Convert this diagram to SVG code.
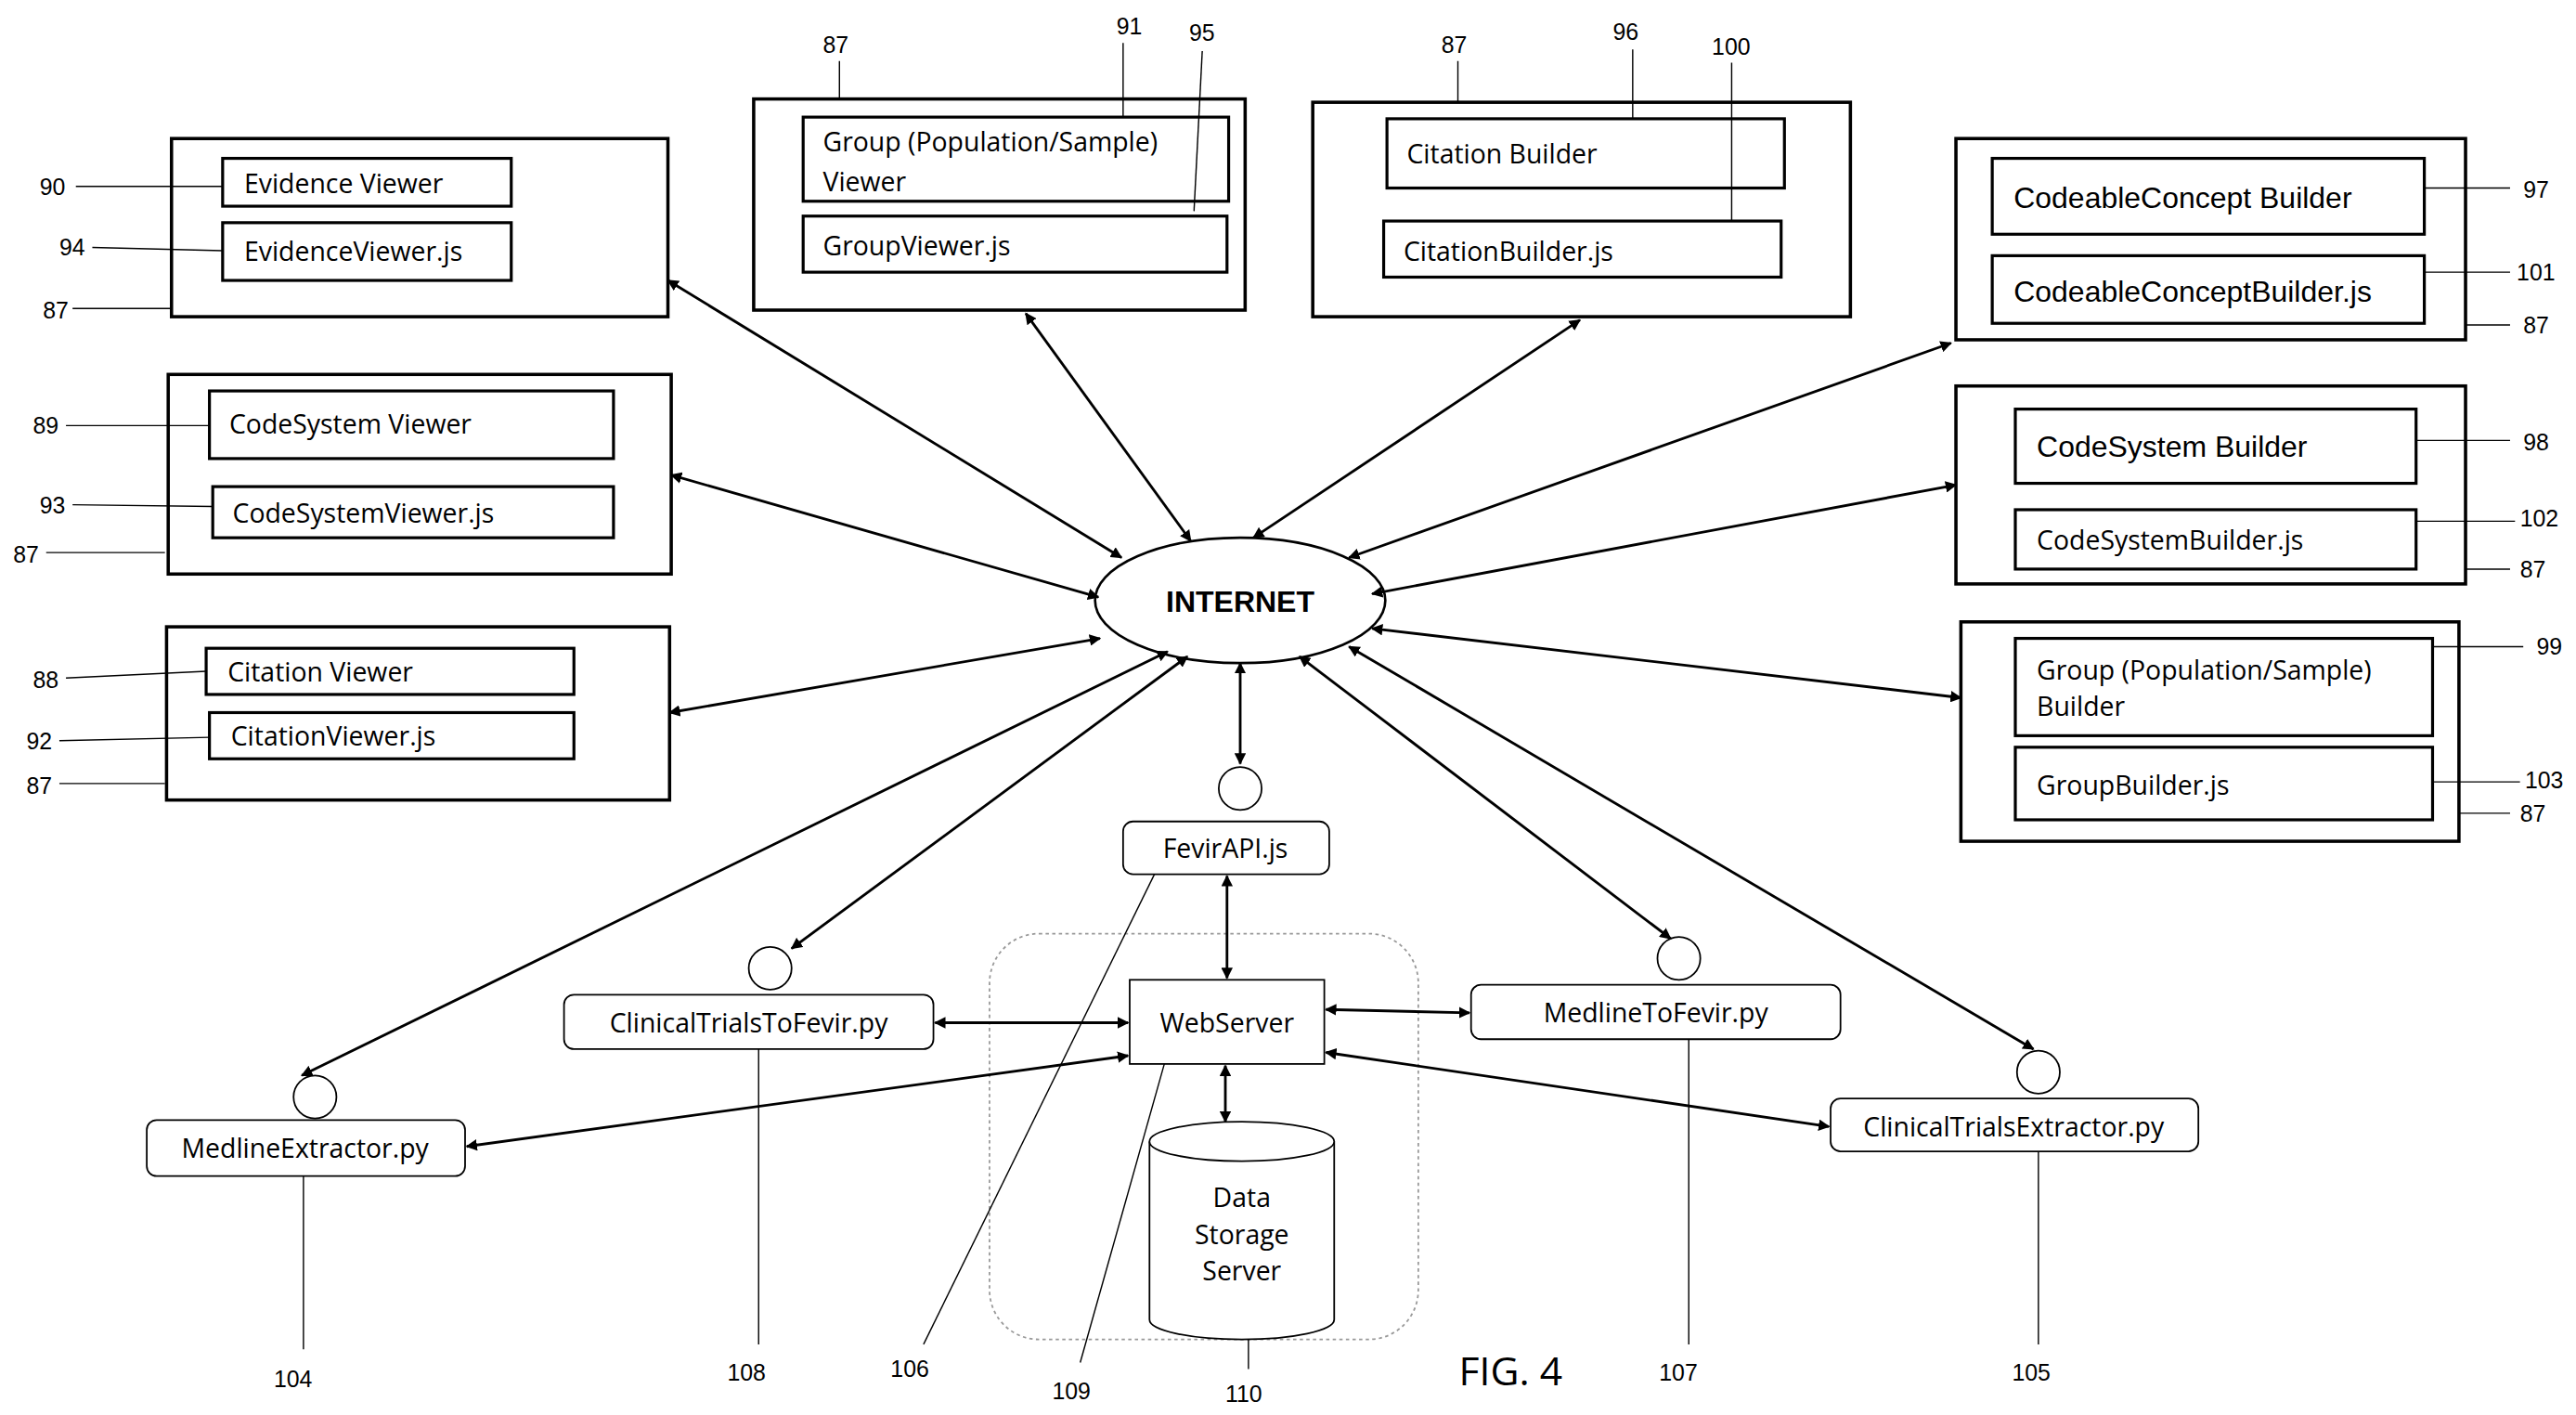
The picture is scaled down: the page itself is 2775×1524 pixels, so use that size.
<svg xmlns="http://www.w3.org/2000/svg" width="2775" height="1524" viewBox="0 0 2775 1524">
<defs>
<marker id="ah" viewBox="0 0 10 10" refX="9" refY="5" markerWidth="7" markerHeight="7" markerUnits="userSpaceOnUse" orient="auto-start-reverse"><path d="M0,0 L10,5 L0,10 z" fill="#000"/></marker>
<style>
.ob{fill:#fff;stroke:#000;stroke-width:2}
.ib{fill:#fff;stroke:#000;stroke-width:1.8}
.rb{fill:#fff;stroke:#000;stroke-width:1}
.t{font-family:"Open Sans","Liberation Sans",sans-serif;font-size:16px;fill:#000}
.tb{font-family:"Liberation Sans",sans-serif;font-size:18px;fill:#000}
.n{font-family:"Liberation Sans",sans-serif;font-size:14px;fill:#000}
.l{stroke:#000;stroke-width:0.8;fill:none}
.a{stroke:#000;stroke-width:1.6;fill:none;marker-start:url(#ah);marker-end:url(#ah)}
</style>
</defs>
<rect width="2775" height="1524" fill="#fff"/>
<g transform="scale(1.7766)">
<g id="evidence-viewer">
<rect class="ob" x="104" y="84" width="301" height="108"/>
<rect class="ib" x="135" y="96" width="175" height="29"/><text class="t" x="148" y="117">Evidence Viewer</text>
<rect class="ib" x="135" y="135" width="175" height="35"/><text class="t" x="148" y="158">EvidenceViewer.js</text>
<text class="n" x="24" y="118">90</text><path class="l" d="M46,113 H135"/>
<text class="n" x="36" y="155">94</text><path class="l" d="M56,150 L135,152"/>
<text class="n" x="26" y="193">87</text><path class="l" d="M44,187 H104"/>
</g>
<g id="codesystem-viewer">
<rect class="ob" x="102" y="227" width="305" height="121"/>
<rect class="ib" x="127" y="237" width="245" height="41"/><text class="t" x="139" y="263">CodeSystem Viewer</text>
<rect class="ib" x="129" y="295" width="243" height="31"/><text class="t" x="141" y="317">CodeSystemViewer.js</text>
<text class="n" x="20" y="263">89</text><path class="l" d="M40,258 H127"/>
<text class="n" x="24" y="311">93</text><path class="l" d="M44,306 L129,307"/>
<text class="n" x="8" y="341">87</text><path class="l" d="M28,335 H100"/>
</g>
<g id="citation-viewer">
<rect class="ob" x="101" y="380" width="305" height="105"/>
<rect class="ib" x="125" y="393" width="223" height="28"/><text class="t" x="138" y="413">Citation Viewer</text>
<rect class="ib" x="127" y="432" width="221" height="28"/><text class="t" x="140" y="452">CitationViewer.js</text>
<text class="n" x="20" y="417">88</text><path class="l" d="M40,411 L125,407"/>
<text class="n" x="16" y="454">92</text><path class="l" d="M36,449 L127,447"/>
<text class="n" x="16" y="481">87</text><path class="l" d="M36,475 H100"/>
</g>
<g id="group-viewer">
<rect class="ob" x="457" y="60" width="298" height="128"/>
<rect class="ib" x="487" y="71" width="258" height="51"/><text class="t" x="499" y="92">Group (Population/Sample)</text><text class="t" x="499" y="116">Viewer</text>
<rect class="ib" x="487" y="131" width="257" height="34"/><text class="t" x="499" y="155">GroupViewer.js</text>
<text class="n" x="499" y="32">87</text><path class="l" d="M509,37 V60"/>
<text class="n" x="677" y="21">91</text><path class="l" d="M681,26 V71"/>
<text class="n" x="721" y="25">95</text><path class="l" d="M729,31 L724,128"/>
</g>
<g id="citation-builder">
<rect class="ob" x="796" y="62" width="326" height="130"/>
<rect class="ib" x="841" y="72" width="241" height="42"/><text class="t" x="853" y="99">Citation Builder</text>
<rect class="ib" x="839" y="134" width="241" height="34"/><text class="t" x="851" y="158">CitationBuilder.js</text>
<text class="n" x="874" y="32">87</text><path class="l" d="M884,37 V62"/>
<text class="n" x="978" y="24">96</text><path class="l" d="M990,30 V72"/>
<text class="n" x="1038" y="33">100</text><path class="l" d="M1050,38 V134"/>
</g>
<g id="codeableconcept-builder">
<rect class="ob" x="1186" y="84" width="309" height="122"/>
<rect class="ib" x="1208" y="96" width="262" height="46"/><text class="tb" x="1221" y="126">CodeableConcept Builder</text>
<rect class="ib" x="1208" y="155" width="262" height="41"/><text class="tb" x="1221" y="183">CodeableConceptBuilder.js</text>
<text class="n" x="1530" y="120">97</text><path class="l" d="M1470,114 H1522"/>
<text class="n" x="1526" y="170">101</text><path class="l" d="M1470,165 H1522"/>
<text class="n" x="1530" y="202">87</text><path class="l" d="M1495,197 H1522"/>
</g>
<g id="codesystem-builder">
<rect class="ob" x="1186" y="234" width="309" height="120"/>
<rect class="ib" x="1222" y="248" width="243" height="45"/><text class="tb" x="1235" y="277">CodeSystem Builder</text>
<rect class="ib" x="1222" y="309" width="243" height="36"/><text class="t" x="1235" y="333">CodeSystemBuilder.js</text>
<text class="n" x="1530" y="273">98</text><path class="l" d="M1465,267 H1522"/>
<text class="n" x="1528" y="319">102</text><path class="l" d="M1465,316 H1525"/>
<text class="n" x="1528" y="350">87</text><path class="l" d="M1495,345 H1522"/>
</g>
<g id="group-builder">
<rect class="ob" x="1189" y="377" width="302" height="133"/>
<rect class="ib" x="1222" y="387" width="253" height="59"/><text class="t" x="1235" y="412">Group (Population/Sample)</text><text class="t" x="1235" y="434">Builder</text>
<rect class="ib" x="1222" y="453" width="253" height="44"/><text class="t" x="1235" y="482">GroupBuilder.js</text>
<text class="n" x="1538" y="397">99</text><path class="l" d="M1475,392 H1530"/>
<text class="n" x="1531" y="478">103</text><path class="l" d="M1475,474 H1528"/>
<text class="n" x="1528" y="498">87</text><path class="l" d="M1491,493 H1522"/>
</g>
<g id="internet">
<ellipse cx="752" cy="364" rx="88" ry="38" fill="#fff" stroke="#000" stroke-width="1.5"/>
<text x="752" y="371" text-anchor="middle" font-family="Liberation Sans,sans-serif" font-weight="bold" font-size="18">INTERNET</text>
</g>
<g id="server-area">
<rect x="600" y="566" width="260" height="246" rx="30" fill="none" stroke="#999" stroke-width="1" stroke-dasharray="2,2"/>
</g>
<g id="fevirapi">
<circle cx="752" cy="478" r="13" class="rb"/>
<rect class="rb" x="681" y="498" width="125" height="32" rx="6"/><text class="t" x="743" y="520" text-anchor="middle">FevirAPI.js</text>
<text class="n" x="540" y="835">106</text><path class="l" d="M700,530 L560,815"/>
</g>
<g id="clinicaltrialstofevir">
<circle cx="467" cy="587" r="13" class="rb"/>
<rect class="rb" x="342" y="603" width="224" height="33" rx="6"/><text class="t" x="454" y="626" text-anchor="middle">ClinicalTrialsToFevir.py</text>
<text class="n" x="441" y="837">108</text><path class="l" d="M460,636 V815"/>
</g>
<g id="medlineextractor">
<circle cx="191" cy="665" r="13" class="rb"/>
<rect class="rb" x="89" y="679" width="193" height="34" rx="6"/><text class="t" x="185" y="702" text-anchor="middle">MedlineExtractor.py</text>
<text class="n" x="166" y="841">104</text><path class="l" d="M184,713 V818"/>
</g>
<g id="medlinetofevir">
<circle cx="1018" cy="581" r="13" class="rb"/>
<rect class="rb" x="892" y="597" width="224" height="33" rx="6"/><text class="t" x="1004" y="620" text-anchor="middle">MedlineToFevir.py</text>
<text class="n" x="1006" y="837">107</text><path class="l" d="M1024,630 V815"/>
</g>
<g id="clinicaltrialsextractor">
<circle cx="1236" cy="650" r="13" class="rb"/>
<rect class="rb" x="1110" y="666" width="223" height="32" rx="6"/><text class="t" x="1221" y="689" text-anchor="middle">ClinicalTrialsExtractor.py</text>
<text class="n" x="1220" y="837">105</text><path class="l" d="M1236,698 V815"/>
</g>
<g id="webserver">
<rect class="rb" x="685" y="594" width="118" height="51"/><text class="t" x="744" y="626" text-anchor="middle">WebServer</text>
<text class="n" x="638" y="848">109</text><path class="l" d="M706,645 L655,826"/>
</g>
<g id="datastorage">
<path d="M697,692 V800 A56,12 0 0 0 809,800 V692" class="rb"/>
<ellipse cx="753" cy="692" rx="56" ry="12" class="rb"/>
<text class="t" x="753" y="732" text-anchor="middle" font-size="15">Data</text>
<text class="t" x="753" y="754" text-anchor="middle" font-size="15">Storage</text>
<text class="t" x="753" y="776" text-anchor="middle" font-size="15">Server</text>
<text class="n" x="743" y="850">110</text><path class="l" d="M757,812 V830"/>
</g>
<g id="connectors">
<path class="a" d="M405,170 L680,338"/>
<path class="a" d="M407,288 L666,362"/>
<path class="a" d="M406,432 L667,387"/>
<path class="a" d="M622,190 L722,328"/>
<path class="a" d="M958,194 L760,326"/>
<path class="a" d="M1183,208 L818,338"/>
<path class="a" d="M1186,294 L832,360"/>
<path class="a" d="M1189,423 L832,381"/>
<path class="a" d="M183,652 L708,395"/>
<path class="a" d="M480,575 L720,398"/>
<path class="a" d="M752,402 L752,463"/>
<path class="a" d="M1013,569 L788,398"/>
<path class="a" d="M1233,636 L818,392"/>
<path class="a" d="M744,531 L744,593"/>
<path class="a" d="M567,620 L684,620"/>
<path class="a" d="M804,612 L891,614"/>
<path class="a" d="M283,695 L684,640"/>
<path class="a" d="M804,638 L1109,683"/>
<path class="a" d="M743,646 L743,680"/>
</g>
<text x="916" y="840" text-anchor="middle" font-family="Open Sans,Liberation Sans,sans-serif" font-size="24">FIG. 4</text>
</g>
</svg>
